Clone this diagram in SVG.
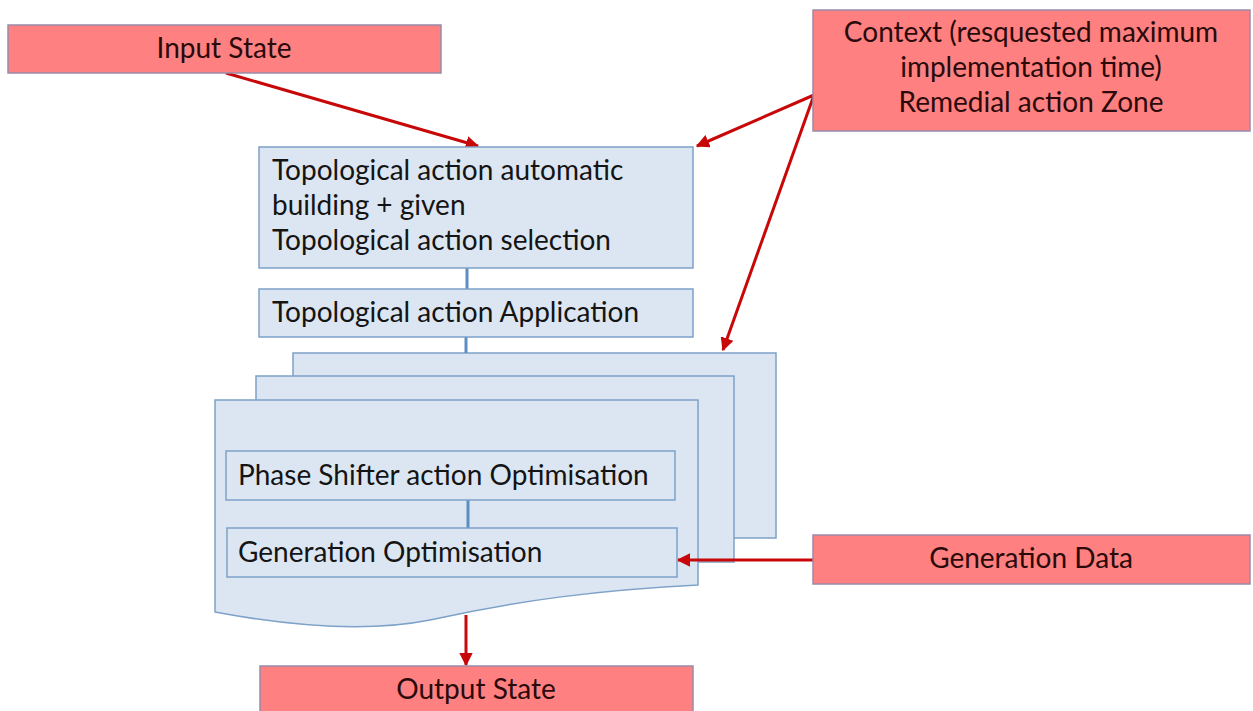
<svg xmlns="http://www.w3.org/2000/svg" width="1253" height="711" viewBox="0 0 1253 711">
  <style>
    .ext { fill: #ff8080; stroke: #9a8aa8; stroke-width: 1.5; }
    .step { fill: #dce6f2; stroke: #7da1c8; stroke-width: 1.5; }
    .page { fill: #dce6f2; stroke: #7da1c8; stroke-width: 1.5; }
    .lbl { font-family: Lato, "Open Sans", "Liberation Sans", sans-serif; font-size: 28px; fill: #141414; }
    .extlbl { font-family: Lato, "Open Sans", "Liberation Sans", sans-serif; font-size: 28px; fill: #2a0a0a; text-anchor: middle; }
    .flow { stroke: #c80808; stroke-width: 3; fill: none; marker-end: url(#head); }
    .link { stroke: #5b8fc2; stroke-width: 3; fill: none; }
  </style>
  <defs>
    <marker id="head" viewBox="0 0 10 10" refX="9" refY="5" markerWidth="4.5" markerHeight="4.5" orient="auto" markerUnits="strokeWidth">
      <path d="M0,0 L10,5 L0,10 z" fill="#c80808"/>
    </marker>
  </defs>
  <rect width="1253" height="711" fill="#ffffff"/>

  <!-- stacked optimisation pages -->
  <g id="page-back">
    <rect class="page" x="293" y="353" width="483" height="185"/>
  </g>
  <g id="page-middle">
    <rect class="page" x="256" y="376" width="478" height="186"/>
  </g>
  <g id="page-front">
    <path class="page" d="M215,400 H698 V585 C600,590 520,600 430,620 C370,632 300,628 215,612 Z"/>
  </g>

  <!-- connectors -->
  <g id="connectors">
    <line class="link" x1="467" y1="268" x2="467" y2="289"/>
    <line class="link" x1="466" y1="337" x2="466" y2="353"/>
    <line class="link" x1="468" y1="500" x2="468" y2="528"/>
    <line class="flow" x1="226" y1="73" x2="478" y2="146"/>
    <line class="flow" x1="814" y1="95" x2="697" y2="146"/>
    <line class="flow" x1="814" y1="95" x2="723" y2="350"/>
    <line class="flow" x1="813" y1="560" x2="678" y2="560"/>
    <line class="flow" x1="466" y1="615" x2="466" y2="665"/>
  </g>

  <g id="input-state">
    <rect class="ext" x="8" y="25" width="433" height="48"/>
    <text class="extlbl" x="224" y="58">Input State</text>
  </g>

  <g id="context">
    <rect class="ext" x="813" y="10" width="437" height="121"/>
    <text class="extlbl" x="1031" y="42">Context (resquested maximum</text>
    <text class="extlbl" x="1031" y="77">implementation time)</text>
    <text class="extlbl" x="1031" y="112">Remedial action Zone</text>
  </g>

  <g id="topo-selection">
    <rect class="step" x="259" y="147" width="434" height="121"/>
    <text class="lbl" x="272" y="180">Topological action automatic</text>
    <text class="lbl" x="272" y="215">building + given</text>
    <text class="lbl" x="272" y="250">Topological action selection</text>
  </g>

  <g id="topo-application">
    <rect class="step" x="259" y="289" width="434" height="48"/>
    <text class="lbl" x="272" y="322">Topological action Application</text>
  </g>

  <g id="phase-shifter">
    <rect class="step" x="226" y="451" width="449" height="49"/>
    <text class="lbl" x="238" y="485">Phase Shifter action Optimisation</text>
  </g>

  <g id="generation-optimisation">
    <rect class="step" x="227" y="528" width="450" height="49"/>
    <text class="lbl" x="238" y="562">Generation Optimisation</text>
  </g>

  <g id="generation-data">
    <rect class="ext" x="813" y="535" width="437" height="49"/>
    <text class="extlbl" x="1031" y="568">Generation Data</text>
  </g>

  <g id="output-state">
    <rect class="ext" x="260" y="666" width="433" height="50"/>
    <text class="extlbl" x="476" y="699">Output State</text>
  </g>
</svg>
